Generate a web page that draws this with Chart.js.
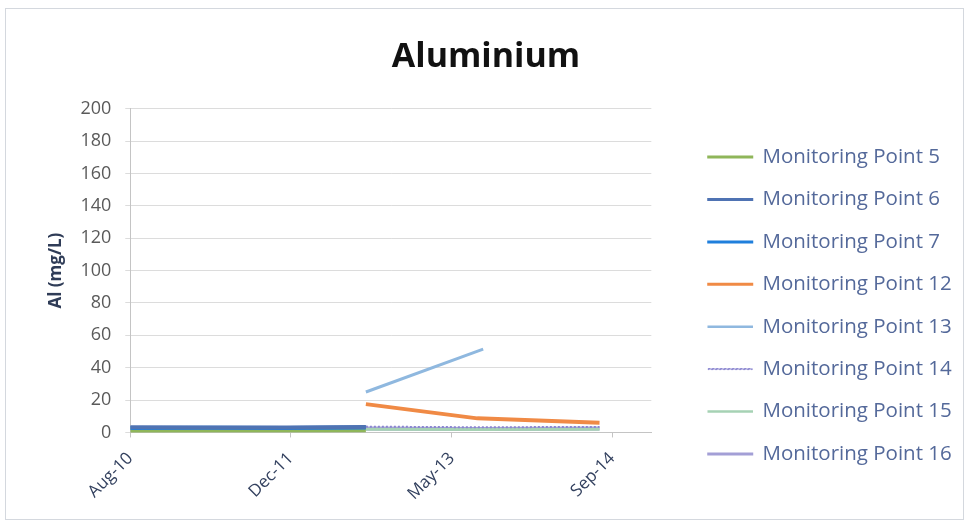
<!DOCTYPE html>
<html lang="en">
<head>
    <meta charset="UTF-8">
    <title>Aluminium</title>
    <style>
        body { margin: 0; background: #fff; }
        #wrap { position: relative; width: 966px; height: 523px; }
        #frame { position: absolute; left: 5px; top: 8px; width: 957px; height: 510px; border: 1px solid #d4d8de; pointer-events: none; }
    </style>
</head>
<body>
    <div id="wrap">
        <canvas id="alChart" width="966" height="523"></canvas>
        <div id="frame"></div>
    </div>

    <script src="https://cdn.jsdelivr.net/npm/chart.js"></script>
    <script>
        // x values are months since Aug-2010
        const tickMonths = [0, 16.4, 32.9, 49.3];
        const tickLabels = ['Aug-10', 'Dec-11', 'May-13', 'Sep-14'];

        const seriesNames = ['Monitoring Point 5', 'Monitoring Point 6', 'Monitoring Point 7',
            'Monitoring Point 12', 'Monitoring Point 13', 'Monitoring Point 14',
            'Monitoring Point 15', 'Monitoring Point 16'];

        const mp5Months = [0, 8, 16, 24.1];
        const mp5Values = [0.9, 1.1, 1.0, 1.2];
        const mp6Months = [0, 8, 16, 24.1];
        const mp6Values = [3.2, 3.0, 3.1, 3.3];
        const mp7Months = [0, 8, 16, 24.1];
        const mp7Values = [2.8, 2.9, 2.7, 3.0];
        const mp12Months = [24.1, 35.5, 48.0];
        const mp12Values = [17.5, 8.7, 6.0];
        const mp13Months = [24.1, 36.1];
        const mp13Values = [25.0, 51.5];
        const mp14Months = [24.1, 35.5, 48.0];
        const mp14Values = [3.6, 3.2, 3.4];
        const mp15Months = [24.1, 35.5, 48.0];
        const mp15Values = [2.0, 1.8, 2.0];
        const mp16Months = [24.1, 35.5, 48.0];
        const mp16Values = [2.4, 2.2, 2.4];

        const colors = ['#8fb65a', '#4f73b3', '#1f7fdc', '#f08a45', '#8fb8df', '#8a86d0', '#a6d2b4', '#a39fd6'];
        const widths = [4, 4, 4, 4, 3, 2, 3, 4];

        const toPoints = (xs, ys) => xs.map((x, i) => ({ x: x, y: ys[i] }));
        const allMonths = [mp5Months, mp6Months, mp7Months, mp12Months, mp13Months, mp14Months, mp15Months, mp16Months];
        const allValues = [mp5Values, mp6Values, mp7Values, mp12Values, mp13Values, mp14Values, mp15Values, mp16Values];

        const datasets = seriesNames.map((name, i) => ({
            label: name,
            data: toPoints(allMonths[i], allValues[i]),
            borderColor: colors[i],
            backgroundColor: colors[i],
            borderWidth: widths[i],
            borderDash: i === 5 ? [2, 2] : [],
            pointRadius: 0,
            tension: 0,
            order: i === 1 || i === 2 ? 0 : 1
        }));

        // moves the legend box next to the plot, like the excel sheet
        const legendGap = {
            id: 'legendGap',
            afterLayout(chart, args, opts) {
                const lg = chart.legend;
                lg.left = chart.chartArea.right + opts.gap;
                lg.right = chart.width;
                lg.top += opts.dy;
                lg.bottom += opts.dy;
            }
        };

        const fontName = '"Open Sans", sans-serif';

        new Chart(document.getElementById('alChart').getContext('2d'), {
            type: 'line',
            data: { datasets: datasets },
            plugins: [legendGap],
            options: {
                responsive: false,
                animation: false,
                layout: { padding: { left: 46, right: 40, top: 10, bottom: 8 } },
                plugins: {
                    legendGap: { gap: 35, dy: 43 },
                    title: {
                        display: true,
                        text: 'Aluminium',
                        color: '#111',
                        font: { family: fontName, size: 34, weight: 'bold' },
                        padding: { top: 27, bottom: 31 }
                    },
                    legend: {
                        position: 'right',
                        align: 'center',
                        labels: {
                            boxWidth: 44,
                            boxHeight: 1,
                            padding: 21.9,
                            color: '#54699a',
                            font: { family: fontName, size: 20.5 },
                            sort: (a, b) => a.datasetIndex - b.datasetIndex,
                            generateLabels: (chart) => Chart.defaults.plugins.legend.labels.generateLabels(chart)
                                .map(l => Object.assign(l, { lineWidth: widths[l.datasetIndex] / 2 }))
                        }
                    },
                    tooltip: { enabled: false }
                },
                scales: {
                    x: {
                        type: 'linear',
                        min: 0,
                        max: 53.3,
                        afterBuildTicks: (scale) => {
                            scale.ticks = tickMonths.map(v => ({ value: v }));
                        },
                        ticks: {
                            autoSkip: false,
                            minRotation: 45,
                            maxRotation: 45,
                            padding: 11,
                            color: '#33415f',
                            font: { family: fontName, size: 17 },
                            callback: (v) => {
                                const k = tickMonths.indexOf(v);
                                return k >= 0 ? tickLabels[k] : '';
                            }
                        },
                        grid: { drawOnChartArea: false, drawTicks: true, tickLength: 5, color: '#c4c4c4' },
                        border: { color: '#c4c4c4' }
                    },
                    y: {
                        min: 0,
                        max: 200,
                        ticks: {
                            stepSize: 20,
                            padding: 14,
                            color: '#5a5a5a',
                            font: { family: fontName, size: 18 }
                        },
                        grid: { color: '#dcdcdc', tickLength: 5 },
                        border: { color: '#c4c4c4' },
                        title: {
                            display: true,
                            text: 'Al (mg/L)',
                            color: '#2f3c57',
                            font: { family: fontName, size: 17, weight: 'bold' },
                            padding: { top: 0, bottom: 0 }
                        }
                    },
                    gap: {
                        type: 'linear',
                        position: 'right',
                        display: true,
                        ticks: { display: false },
                        grid: { display: false },
                        border: { display: false },
                        afterFit: (scale) => { scale.width = 128; }
                    }
                }
            }
        });
    </script>
</body>
</html>
